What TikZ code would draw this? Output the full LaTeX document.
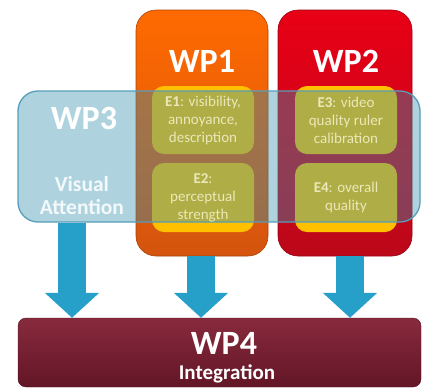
\documentclass[tikz,border=0pt]{standalone}
\usepackage{fontspec}
\setmainfont{Carlito}
\usetikzlibrary{arrows.meta}
\definecolor{wpone}{RGB}{255,106,0}
\definecolor{wponedark}{RGB}{212,84,14}
\definecolor{wptwo}{RGB}{232,0,22}
\definecolor{wptwodark}{RGB}{188,8,26}
\definecolor{wpthree}{RGB}{53,145,175}
\definecolor{wpthreeline}{RGB}{86,158,186}
\definecolor{wpfour}{RGB}{136,42,62}
\definecolor{wpfourdark}{RGB}{98,22,38}
\definecolor{taskbg}{RGB}{255,192,0}
\definecolor{tasktext}{RGB}{236,232,184}
\definecolor{flow}{RGB}{38,160,200}

\tikzset{
  wpbox/.style={rounded corners=20pt, inner sep=0pt, line width=0.6pt},
  taskbox/.style={rounded corners=12pt, inner sep=0pt, fill=taskbg,
    minimum width=102pt},
  tasklabel/.style={align=center, text=tasktext,
    font=\fontsize{15}{18}\selectfont},
  wptitle/.style={text=white, font=\fontsize{34}{34}\bfseries},
  flowarrow/.style={draw=flow, line width=28pt,
    -{Triangle[width=53pt,length=25pt]}},
}

\begin{document}
\begin{tikzpicture}[x=1pt,y=-1pt]
  \useasboundingbox (0,0) rectangle (422,389);

  % the two experiment packages
  \node[wpbox, draw=wponedark!80!black, top color=wpone, bottom color=wponedark,
    minimum width=132pt, minimum height=246pt] (wp1) at (202,133) {};
  \node[wpbox, draw=wptwodark!80!black, top color=wptwo, bottom color=wptwodark,
    minimum width=134pt, minimum height=246pt] (wp2) at (345,133) {};
  \node[wptitle] (wp1title) at (202,61) {WP1};
  \node[wptitle] (wp2title) at (346,61) {WP2};

  \node[taskbox, minimum height=68pt] (e1) at (203,120) {};
  \node[taskbox, minimum height=69pt] (e2) at (203,197.5) {};
  \node[taskbox, minimum height=68pt] (e3) at (346,120) {};
  \node[taskbox, minimum height=69pt] (e4) at (346,197.5) {};

  % attention package laid over both
  \node[wpbox, rounded corners=20pt, fill=wpthree, fill opacity=0.4,
    draw=wpthreeline, line width=1.3pt,
    minimum width=402pt, minimum height=131pt] (wp3) at (219,156.5) {};
  \node[wptitle] (wp3title) at (84,118) {WP3};
  \node[align=center, text=white!94!wpthree,
    font=\fontsize{21.5}{23}\bfseries] (wp3sub) at (82,196) {Visual\\Attention};

  \node[tasklabel] (e1text) at (e1) {\textbf{E1}: visibility,\\annoyance,\\description};
  \node[tasklabel] (e2text) at (e2) {\textbf{E2}:\\perceptual\\strength};
  \node[tasklabel] (e3text) at (e3) {\textbf{E3}: video\\quality ruler\\calibration};
  \node[tasklabel] (e4text) at (e4) {\textbf{E4}: overall\\quality};

  % integration
  \node[rounded corners=8pt, inner sep=0pt, draw=wpfourdark!80!black,
    top color=wpfour, bottom color=wpfourdark,
    minimum width=403pt, minimum height=69pt] (wp4) at (219.5,352.5) {};
  \node[wptitle] (wp4title) at (224,343) {WP4};
  \node[text=white, font=\fontsize{21}{21}\bfseries] (wp4sub) at (227,374) {Integration};

  \coordinate (fa) at (72,0);
  \coordinate (fb) at (201,0);
  \coordinate (fc) at (350,0);
  \draw[flowarrow] (wp3.south -| fa) -- (wp4.north -| fa);
  \draw[flowarrow] (wp1.south -| fb) -- (wp4.north -| fb);
  \draw[flowarrow] (wp2.south -| fc) -- (wp4.north -| fc);
\end{tikzpicture}
\end{document}
